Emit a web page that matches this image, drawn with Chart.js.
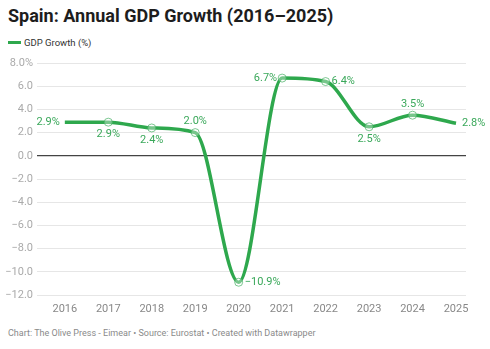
<!DOCTYPE html>
<html>
<head>
<meta charset="utf-8">
<script src="https://cdn.jsdelivr.net/npm/chart.js@4"></script>
<style>
    html, body { margin: 0; padding: 0; background: #fff; }
    body { width: 490px; height: 349px; position: relative; overflow: hidden; font-family: Roboto, sans-serif; }
    #title { position: absolute; left: 8px; top: 5px; font-size: 18px; font-weight: 700; color: #1d1d1d; white-space: nowrap; }
    #legend { position: absolute; left: 8px; top: 37px; font-size: 9.5px; color: #333; white-space: nowrap; }
    #legend span.swatch { display: inline-block; width: 13px; height: 3px; background: #2ea84d; vertical-align: middle; margin-right: 3px; position: relative; top: -1px; }
    #footer { position: absolute; left: 8px; top: 328px; font-size: 9px; color: #8a8a8a; white-space: nowrap; }
    #wrap { position: absolute; left: 0; top: 0; width: 490px; height: 349px; }
</style>
</head>
<body>
<div id="title">Spain: Annual GDP Growth (2016–2025)</div>
<div id="legend"><span class="swatch"></span>GDP Growth (%)</div>
<div id="footer">Chart: The Olive Press - Eimear • Source: Eurostat • Created with Datawrapper</div>
<div id="wrap"><canvas id="gdpChart" width="490" height="349"></canvas></div>
<script>
// Dữ liệu tăng trưởng GDP Tây Ban Nha
const years = [2016, 2017, 2018, 2019, 2020, 2021, 2022, 2023, 2024, 2025];
const growth = [2.9, 2.9, 2.4, 2.0, -10.9, 6.7, 6.4, 2.5, 3.5, 2.8];
const yTicks = [-12, -10, -8, -6, -4, -2, 0, 2, 4, 6, 8];

// Vị trí nhãn giá trị so với điểm
const labelPlace = ['left', 'below', 'below', 'above', 'right', 'left', 'right', 'below', 'above', 'right'];

const green = '#2ea84d';
const labelGreen = '#3aa85a';

function fmtNum(v) {
    const s = Math.abs(v).toFixed(1);
    return v < 0 ? '\u2212' + s : s;
}

// Vẽ nhãn giá trị cạnh từng điểm
const valueLabels = {
    id: 'valueLabels',
    afterDatasetsDraw(chart) {
        const ctx = chart.ctx;
        const meta = chart.getDatasetMeta(0);
        ctx.save();
        ctx.font = '11px Roboto, sans-serif';
        ctx.fillStyle = labelGreen;
        meta.data.forEach((pt, i) => {
            const text = fmtNum(growth[i]) + '%';
            let x = pt.x, y = pt.y;
            ctx.textBaseline = 'middle';
            switch (labelPlace[i]) {
                case 'left':  ctx.textAlign = 'right'; x -= 5; break;
                case 'right': ctx.textAlign = 'left'; x += 6; break;
                case 'above': ctx.textAlign = 'center'; y -= 11; break;
                case 'below': ctx.textAlign = 'center'; y += 12; break;
            }
            ctx.fillText(text, x, y);
        });
        ctx.restore();
    }
};

try {
    const ctx = document.getElementById('gdpChart').getContext('2d');
    new Chart(ctx, {
        type: 'line',
        data: {
            datasets: [{
                label: 'GDP Growth (%)',
                data: years.map((y, i) => ({ x: y, y: growth[i] })),
                borderColor: green,
                borderWidth: 3.5,
                cubicInterpolationMode: 'monotone',
                pointRadius: years.map((y, i) => (i === 0 || i === years.length - 1) ? 0 : 4),
                pointBackgroundColor: 'rgba(255,255,255,0.35)',
                pointBorderColor: 'rgba(70,175,100,0.7)',
                pointBorderWidth: 1,
                clip: false
            }]
        },
        options: {
            responsive: false,
            animation: false,
            layout: { padding: { top: 63, right: 24, left: 0, bottom: 0 } },
            plugins: {
                legend: { display: false },
                title: { display: false },
                tooltip: { enabled: false }
            },
            scales: {
                x: {
                    type: 'linear',
                    min: 2015.36,
                    max: 2025.23,
                    border: { display: false },
                    grid: { display: false, drawTicks: false },
                    afterBuildTicks: axis => { axis.ticks = years.map(v => ({ value: v })); },
                    afterFit: axis => { axis.height = 54; },
                    ticks: {
                        padding: 8,
                        color: '#888',
                        font: { family: 'Roboto', size: 11 },
                        maxRotation: 0,
                        callback: v => String(v)
                    }
                },
                y: {
                    min: -12,
                    max: 8,
                    border: { display: false },
                    afterBuildTicks: axis => { axis.ticks = yTicks.map(v => ({ value: v })); },
                    afterFit: axis => { axis.width = 37; },
                    grid: {
                        drawTicks: false,
                        color: c => c.tick && c.tick.value === 0 ? '#444' : '#e6e6e6',
                        lineWidth: c => c.tick && c.tick.value === 0 ? 1.2 : 1
                    },
                    ticks: {
                        padding: 4,
                        color: '#aaa',
                        font: { family: 'Roboto', size: 11 },
                        callback: v => fmtNum(v) + (v === 8 ? '%' : '')
                    }
                }
            }
        },
        plugins: [valueLabels]
    });
} catch (error) {
    console.error('Lỗi khi vẽ biểu đồ GDP:', error);
}
</script>
</body>
</html>
